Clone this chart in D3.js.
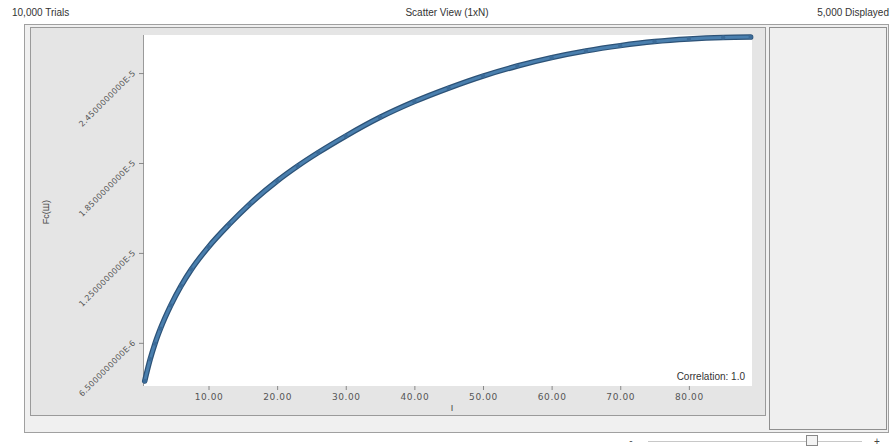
<!DOCTYPE html>
<html>
<head>
<meta charset="utf-8">
<script src="https://cdn.jsdelivr.net/npm/d3@7"></script>
<style>
  body { margin: 0; background: #ffffff; }
  svg { display: block; font-family: "Liberation Sans", Arial, sans-serif; }
</style>
</head>
<body>
<div id="chart"></div>
<script>
// values
var xValues = [0.7, 1.5, 2.2, 3, 4.5, 6, 7.5, 10, 13, 16, 20, 23, 26, 30, 35, 40, 45, 50, 55, 60, 65, 70, 75, 80, 85, 89];
var yValues = [3.95e-6, 5.4e-6, 6.45e-6, 7.45e-6, 9.0e-6, 10.3e-6, 11.4e-6, 12.9e-6, 14.4e-6, 15.75e-6,
  17.3e-6, 18.3e-6, 19.2e-6, 20.3e-6, 21.55e-6, 22.6e-6, 23.5e-6, 24.3e-6, 24.97e-6, 25.53e-6,
  25.98e-6, 26.33e-6, 26.6e-6, 26.77e-6, 26.87e-6, 26.9e-6];
var xTicks = [10, 20, 30, 40, 50, 60, 70, 80];
var yTicks = [6.5e-6, 1.25e-5, 1.85e-5, 2.45e-5];
var yTickLabels = ["6.5000000000E-6", "1.2500000000E-5", "1.8500000000E-5", "2.4500000000E-5"];

var W = 893, H = 447;
var svg = d3.select("#chart").append("svg").attr("width", W).attr("height", H);

// header texts
svg.append("text").attr("x", 12).attr("y", 16).attr("font-size", 10).attr("fill", "#333").text("10,000 Trials");
svg.append("text").attr("x", 447).attr("y", 16).attr("font-size", 10).attr("fill", "#333")
  .attr("text-anchor", "middle").text("Scatter View (1xN)");
svg.append("text").attr("x", 889).attr("y", 16).attr("font-size", 10).attr("fill", "#333")
  .attr("text-anchor", "end").text("5,000 Displayed");

// outer panel
svg.append("rect").attr("x", 24.5).attr("y", 24.5).attr("width", 864).attr("height", 408)
  .attr("fill", "#f0f0f0").attr("stroke", "#a0a0a0");
// chart panel
svg.append("rect").attr("x", 30.5).attr("y", 27.5).attr("width", 735).attr("height", 388)
  .attr("fill", "#e5e5e5").attr("stroke", "#9a9a9a");
// right panel
svg.append("rect").attr("x", 769.5).attr("y", 27.5).attr("width", 117).attr("height", 402)
  .attr("fill", "#efefef").attr("stroke", "#8f8f8f");

// plot area
var margin = { left: 144, top: 35, right: 752, bottom: 386 };
svg.append("rect").attr("x", margin.left).attr("y", margin.top)
  .attr("width", margin.right - margin.left).attr("height", margin.bottom - margin.top)
  .attr("fill", "#ffffff");
svg.append("line").attr("x1", margin.left - 0.5).attr("x2", margin.left - 0.5)
  .attr("y1", margin.top).attr("y2", margin.bottom).attr("stroke", "#9a9a9a");

var x = d3.scaleLinear().domain([0.6, 89.2]).range([margin.left, margin.right]);
var y = d3.scaleLinear().domain([3.62e-6, 27.04e-6]).range([margin.bottom, margin.top]);

// x axis
var xAxis = svg.append("g")
  .attr("transform", "translate(0," + margin.bottom + ")")
  .call(d3.axisBottom(x).tickValues(xTicks).tickSize(4).tickPadding(4)
    .tickFormat(function (d) { return d3.format(".2f")(d); }));
xAxis.select(".domain").remove();
xAxis.selectAll("line").attr("stroke", "#888");
xAxis.selectAll("text").attr("font-size", 9).attr("fill", "#555").attr("letter-spacing", "0.6px")
  .attr("font-family", "DejaVu Sans");

// y axis
var yAxis = svg.append("g")
  .attr("transform", "translate(" + margin.left + ",0)")
  .call(d3.axisLeft(y).tickValues(yTicks).tickSize(5).tickPadding(3)
    .tickFormat(function (d, i) { return yTickLabels[i]; }));
yAxis.select(".domain").remove();
yAxis.selectAll("line").attr("stroke", "#888");
yAxis.selectAll("text").attr("font-size", 8).attr("fill", "#555")
  .attr("font-family", "DejaVu Sans").attr("letter-spacing", "0.3px")
  .attr("dy", 0).attr("text-anchor", "end")
  .attr("transform", function () { return "rotate(-45," + (-8) + ",0)"; });

// axis titles
svg.append("text").attr("x", 452).attr("y", 411).attr("font-size", 9).attr("fill", "#444")
  .attr("text-anchor", "middle").text("I");
svg.append("text").attr("transform", "translate(49,212) rotate(-90)").attr("font-size", 9).attr("fill", "#444")
  .attr("text-anchor", "middle").text("Fc(Ш)");

// data band
var pts = xValues.map(function (d, i) { return [d, yValues[i]]; });
var line = d3.line().x(function (d) { return x(d[0]); }).y(function (d) { return y(d[1]); })
  .curve(d3.curveMonotoneX);
svg.append("path").datum(pts).attr("d", line).attr("fill", "none")
  .attr("stroke", "#2c5277").attr("stroke-width", 5.5).attr("stroke-linecap", "round");
svg.append("path").datum(pts).attr("d", line).attr("fill", "none")
  .attr("stroke", "#4a7fae").attr("stroke-width", 3);
svg.selectAll(".pt").data(pts).enter().append("circle").attr("class", "pt")
  .attr("cx", function (d) { return x(d[0]); }).attr("cy", function (d) { return y(d[1]); })
  .attr("r", 2.2).attr("fill", "#3b6b98");

// correlation label
svg.append("text").attr("x", 745).attr("y", 380).attr("font-size", 10).attr("fill", "#333")
  .attr("text-anchor", "end").text("Correlation: 1.0");

// bottom zoom slider
svg.append("text").attr("x", 631).attr("y", 444).attr("font-size", 10).attr("fill", "#555")
  .attr("text-anchor", "middle").text("-");
svg.append("line").attr("x1", 648).attr("x2", 862).attr("y1", 441.5).attr("y2", 441.5)
  .attr("stroke", "#c8c8c8");
svg.append("rect").attr("x", 806.5).attr("y", 435.5).attr("width", 11).attr("height", 10)
  .attr("fill", "#f4f4f4").attr("stroke", "#888");
svg.append("text").attr("x", 877).attr("y", 445).attr("font-size", 10).attr("fill", "#444")
  .attr("text-anchor", "middle").text("+");
</script>
</body>
</html>
